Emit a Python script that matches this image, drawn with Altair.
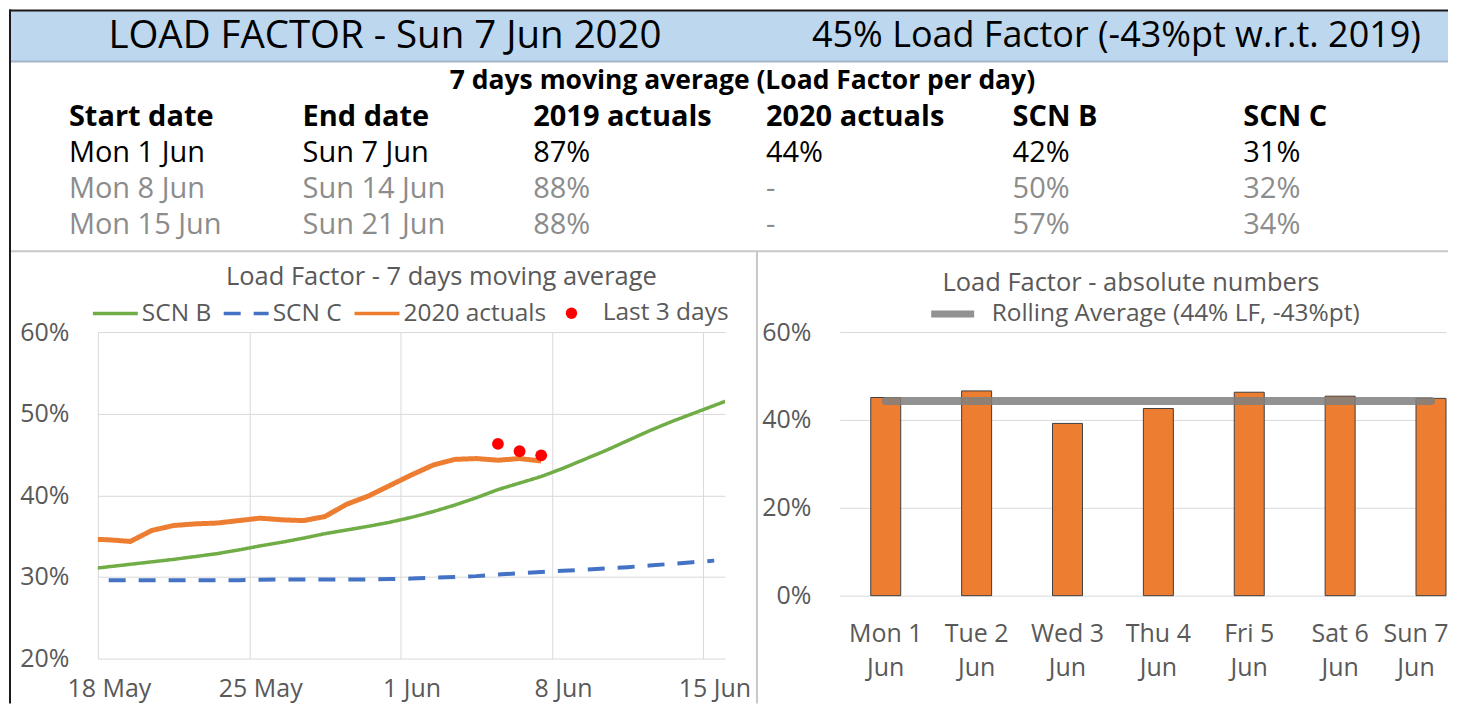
import altair as alt
import pandas as pd

# ---------------- data ----------------
header_left = "LOAD FACTOR - Sun 7 Jun 2020"
header_right = "45% Load Factor (-43%pt w.r.t. 2019)"
table_title = "7 days moving average (Load Factor per day)"
table_columns = ["Start date", "End date", "2019 actuals", "2020 actuals", "SCN B", "SCN C"]
start_dates = ["Mon 1 Jun", "Mon 8 Jun", "Mon 15 Jun"]
end_dates = ["Sun 7 Jun", "Sun 14 Jun", "Sun 21 Jun"]
lf_2019 = ["87%", "88%", "88%"]
lf_2020 = ["44%", "-", "-"]
scn_b_week = ["42%", "50%", "57%"]
scn_c_week = ["31%", "32%", "34%"]

# left chart: 7 days moving average (%), one value per day
scn_b_dates = pd.date_range("2020-05-17", "2020-06-16").strftime("%Y-%m-%d").tolist()
scn_b = [30.95, 31.25, 31.55, 31.85, 32.15, 32.5, 32.85, 33.3, 33.8, 34.25, 34.75,
         35.3, 35.75, 36.2, 36.7, 37.3, 38.0, 38.8, 39.7, 40.7, 41.5, 42.3, 43.3,
         44.4, 45.5, 46.7, 47.9, 49.0, 50.0, 51.0, 52.0]
scn_c_dates = pd.date_range("2020-05-18", "2020-06-15").strftime("%Y-%m-%d").tolist()
scn_c = [29.6, 29.6, 29.6, 29.6, 29.6, 29.6, 29.6, 29.65, 29.7, 29.7, 29.7, 29.7,
         29.7, 29.75, 29.8, 29.9, 30.0, 30.1, 30.3, 30.45, 30.6, 30.75, 30.9,
         31.05, 31.2, 31.4, 31.6, 31.8, 32.0]
act_dates = pd.date_range("2020-05-17", "2020-06-07").strftime("%Y-%m-%d").tolist()
actuals_2020 = [34.65, 34.55, 34.35, 35.7, 36.3, 36.5, 36.6, 36.9, 37.2, 37.0, 36.9,
                37.4, 38.9, 39.9, 41.2, 42.5, 43.7, 44.4, 44.5, 44.3, 44.5, 44.2]
last3_dates = ["2020-06-05", "2020-06-06", "2020-06-07"]
last3 = [46.3, 45.4, 44.9]

# right chart: daily load factor (%)
bar_days = ["Mon 1 Jun", "Tue 2 Jun", "Wed 3 Jun", "Thu 4 Jun", "Fri 5 Jun", "Sat 6 Jun", "Sun 7 Jun"]
bar_lf = [45.1, 46.6, 39.2, 42.6, 46.3, 45.4, 44.9]
rolling_avg = 44.3
rolling_label = "Rolling Average (44% LF, -43%pt)"

# ---------------- style ----------------
FONT = "Open Sans"
TXT = "#595959"
GRID = "#D9D9D9"
RIGHT = 1352   # right edge of the page content, in top-block pixels
BOTTOM = 695
one = pd.DataFrame({"k": [0]})


def deco_rule(x, x2, y, y2, color, width):
    return alt.Chart(one).mark_rule(color=color, strokeWidth=width).encode(
        x=alt.value(x), x2=alt.value(x2), y=alt.value(y), y2=alt.value(y2))


# ---------------- top block (header + table) ----------------
band = alt.Chart(one).mark_rect(fill="#BDD7EE").encode(
    x=alt.value(-88), x2=alt.value(RIGHT), y=alt.value(1), y2=alt.value(52))
band_line = deco_rule(-88, RIGHT, 52, 52, "#A3B6C9", 2)
border_top = deco_rule(-89, RIGHT, 1, 1, "#1A1A1A", 2)
border_left = deco_rule(-88, -88, 0, BOTTOM, "#1A1A1A", 2)
sep_h = deco_rule(-87, RIGHT, 242, 242, "#C8C8C8", 2)
sep_v = deco_rule(660, 660, 242, BOTTOM, "#C8C8C8", 2)

head_l = alt.Chart(one).mark_text(text=header_left, font=FONT, fontSize=38.5, color="#000000",
                                  align="center", baseline="middle").encode(
    x=alt.value(287.5), y=alt.value(27))
head_r = alt.Chart(one).mark_text(text=header_right, font=FONT, fontSize=36, color="#000000",
                                  align="center", baseline="middle").encode(
    x=alt.value(1020), y=alt.value(27))
sub = alt.Chart(one).mark_text(text=table_title, font=FONT, fontSize=26.5, fontWeight="bold",
                               color="#000000", align="center", baseline="middle").encode(
    x=alt.value(645.5), y=alt.value(72))

head_rows = [{"c": c, "r": 0, "t": name} for c, name in enumerate(table_columns)]
body_rows = []
for c, col in enumerate([start_dates, end_dates, lf_2019, lf_2020, scn_b_week, scn_c_week]):
    for r, val in enumerate(col):
        body_rows.append({"c": c, "r": r + 1, "t": val, "s": "current" if r == 0 else "future"})

tx = alt.X("c:Q", scale=alt.Scale(domain=[0, 1, 2, 3, 4, 5],
                                  range=[-29, 205, 436, 669, 916, 1147], nice=False, zero=False),
           axis=None)
ty = alt.Y("r:Q", scale=alt.Scale(domain=[0, 3], range=[108, 216], nice=False, zero=False), axis=None)

tbl_head = alt.Chart(pd.DataFrame(head_rows)).mark_text(
    font=FONT, fontSize=29, fontWeight="bold", color="#000000", align="left", baseline="middle"
).encode(x=tx, y=ty, text="t:N")
tbl_body = alt.Chart(pd.DataFrame(body_rows)).mark_text(
    font=FONT, fontSize=29, align="left", baseline="middle"
).encode(x=tx, y=ty, text="t:N",
         color=alt.Color("s:N", scale=alt.Scale(domain=["current", "future"],
                                                range=["#000000", "#8C8C8C"]), legend=None))

top = alt.layer(band, band_line, border_top, border_left, sep_h, sep_v,
                head_l, head_r, sub, tbl_head, tbl_body).properties(width=RIGHT, height=242)

# ---------------- left chart ----------------
def dt(m, d):
    return alt.DateTime(year=2020, month=m, date=d, utc=True)


x_l = alt.X("date:T", timeUnit="utcyearmonthdate", bandPosition=0.5,
            scale=alt.Scale(domain=[dt(5, 18), dt(6, 16)]),
            axis=alt.Axis(values=[dt(5, 18), dt(5, 25), dt(6, 1), dt(6, 8), dt(6, 15)],
                          labelExpr="utcFormat(datum.value, '%-d %b')", labelOffset=11,
                          labelFlush=False, labelOverlap=False,
                          grid=True, gridColor=GRID, gridWidth=1, domain=False, ticks=False,
                          labelPadding=18, labelFontSize=25, labelColor=TXT, title=None))
y_l = alt.Y("v:Q", scale=alt.Scale(domain=[20, 60], nice=False, zero=False),
            axis=alt.Axis(values=[20, 30, 40, 50, 60], labelExpr="datum.value + '%'",
                          grid=True, gridColor=GRID, domain=False, ticks=False,
                          labelPadding=29, labelFontSize=25, labelColor=TXT, title=None))

series_dom = ["SCN B", "SCN C", "2020 actuals"]
line_legend = alt.Legend(orient="none", legendX=-7, legendY=-43, direction="horizontal",
                         title=None, symbolType="stroke", symbolSize=2025,
                         symbolStrokeWidth=3.5, labelOffset=2, columnPadding=5)
c_enc = alt.Color("series:N", scale=alt.Scale(domain=series_dom,
                                              range=["#70AD47", "#4472C4", "#ED7D31"]),
                  legend=line_legend)
d_enc = alt.StrokeDash("series:N", scale=alt.Scale(domain=series_dom,
                                                   range=[[1, 0], [17, 13], [1, 0]]),
                       legend=line_legend)

df_b = pd.DataFrame({"date": scn_b_dates, "v": scn_b, "series": "SCN B"})
df_c = pd.DataFrame({"date": scn_c_dates, "v": scn_c, "series": "SCN C"})
df_a = pd.DataFrame({"date": act_dates, "v": actuals_2020, "series": "2020 actuals"})
df_p = pd.DataFrame({"date": last3_dates, "v": last3, "pt": "Last 3 days"})

l_b = alt.Chart(df_b).mark_line(strokeWidth=3.5, clip=True).encode(x=x_l, y=y_l, color=c_enc, strokeDash=d_enc)
l_c = alt.Chart(df_c).mark_line(strokeWidth=4, clip=True).encode(x=x_l, y=y_l, color=c_enc, strokeDash=d_enc)
l_a = alt.Chart(df_a).mark_line(strokeWidth=5, clip=True).encode(x=x_l, y=y_l, color=c_enc, strokeDash=d_enc)
pts = alt.Chart(df_p).mark_circle(size=140, opacity=1).encode(
    x=x_l, y=y_l,
    fill=alt.Fill("pt:N", scale=alt.Scale(domain=["Last 3 days"], range=["#FF0000"]),
                  legend=alt.Legend(orient="none", legendX=462, legendY=-31, title=None,
                                    symbolType="circle", symbolSize=130, labelOffset=19,
                                    direction="horizontal")))

left = alt.layer(l_b, l_c, l_a, pts).properties(
    width=628, height=327,
    title=alt.TitleParams("Load Factor - 7 days moving average", font=FONT, fontSize=25.5,
                          fontWeight="normal", color=TXT, anchor="middle", frame="group",
                          dx=30, offset=-1))

# ---------------- right chart ----------------
x_r = alt.X("day:N", sort=bar_days,
            scale=alt.Scale(domain=bar_days, paddingInner=0.67, paddingOuter=0.17, align=1),
            axis=alt.Axis(labelExpr="[slice(datum.label, 0, lastindexof(datum.label, ' ')), "
                                    "slice(datum.label, lastindexof(datum.label, ' ') + 1)]",
                          labelOffset={"condition": {"test": "datum.value === 'Sun 7 Jun'", "value": -15},
                                       "value": 0},
                          labelAngle=0, labelPadding=26, labelLineHeight=34, labelFontSize=25,
                          labelColor=TXT, domain=False, ticks=False, title=None,
                          labelBaseline="top"))
y_r = alt.Y("lf:Q", scale=alt.Scale(domain=[0, 60], nice=False),
            axis=alt.Axis(values=[0, 20, 40, 60], labelExpr="datum.value + '%'",
                          grid=True, gridColor=GRID, domain=False, ticks=False,
                          labelPadding=29, labelFontSize=25, labelColor=TXT, title=None))

df_bars = pd.DataFrame({"day": bar_days, "lf": bar_lf})
df_avg = pd.DataFrame({"day": [bar_days[0], bar_days[-1]], "lf": [rolling_avg, rolling_avg],
                       "series": rolling_label})

bars = alt.Chart(df_bars).mark_bar(color="#ED7D31", stroke="#3F3F3F", strokeWidth=1).encode(x=x_r, y=y_r)
avg = alt.Chart(df_avg).mark_line(strokeWidth=8, strokeCap="round", opacity=0.85).encode(
    x=x_r, y=y_r,
    color=alt.Color("series:N", scale=alt.Scale(domain=[rolling_label], range=["#7F7F7F"]),
                    legend=alt.Legend(orient="none", legendX=88, legendY=-43, title=None,
                                      symbolType="stroke", symbolSize=1849, symbolStrokeWidth=7,
                                      symbolOpacity=0.85, labelOffset=14, labelLimit=0,
                                      direction="horizontal")))

right = alt.layer(bars, avg).properties(
    width=607, height=264,
    title=alt.TitleParams("Load Factor - absolute numbers", font=FONT, fontSize=25.5,
                          fontWeight="normal", color=TXT, anchor="middle", frame="group",
                          dx=-12, offset=-7))

indep = dict(color="independent", strokeDash="independent", fill="independent")
bottom = alt.hconcat(left, right, spacing=115, bounds="flush").resolve_scale(**indep).resolve_legend(**indep)

chart = alt.vconcat(
    top, bottom, spacing=81, bounds="flush",
).resolve_scale(**indep).resolve_legend(**indep).properties(
    padding=0, background="white"
).configure_view(stroke=None).configure_axis(
    labelFont=FONT
).configure_legend(
    labelFont=FONT, labelFontSize=24.5, labelColor=TXT, padding=0
).configure_title(font=FONT)

chart.save("out.html", embed_options={"renderer": "svg", "actions": False})
